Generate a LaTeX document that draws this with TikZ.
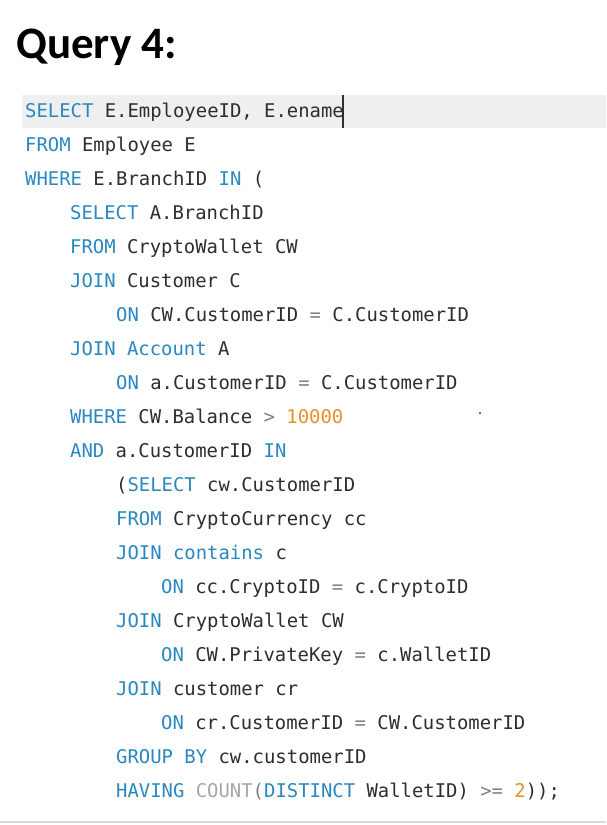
\documentclass[tikz,border=0pt]{standalone}
\usepackage{fontspec}
\setmainfont{Carlito}
\setmonofont{DejaVu Sans Mono}
\usetikzlibrary{positioning}

\definecolor{sqlblue}{HTML}{2A88C0}
\definecolor{sqltext}{HTML}{2E2E2E}
\definecolor{sqlorange}{HTML}{E8902C}
\definecolor{sqlgray}{HTML}{808080}
\definecolor{sqlfunc}{HTML}{A6A6A6}
\definecolor{linebg}{HTML}{EFEFEF}

\newcommand{\sqlkw}[1]{\textcolor{sqlblue}{#1}}
\newcommand{\sqlnum}[1]{\textcolor{sqlorange}{#1}}
\newcommand{\sqlop}[1]{\textcolor{sqlgray}{#1}}
\newcommand{\sqlfn}[1]{\textcolor{sqlfunc}{#1}}

\begin{document}
\begin{tikzpicture}[x=1pt,y=-1pt]

	\tikzset{code line/.style={inner sep=0pt, anchor=base west,
			font=\ttfamily\fontsize{18.9}{20}\selectfont, text=sqltext},
		title/.style={inner sep=0pt, anchor=base west,
			font=\bfseries\fontsize{45}{50}\selectfont}}

	\useasboundingbox[fill=white] (0,0) rectangle (606,825);

	% current line and cursor
	\fill[linebg] (22,95) rectangle (606,128);
	\draw[sqltext, line width=1.6pt] (343,95) -- (343,128);

	\node[title] (head) at (16,58) {Query 4:};

	% outer query
	\node[code line] (l1) at (25,117) {\sqlkw{SELECT} E.EmployeeID, E.ename};
	\node[code line] (l2) at (25,151) {\sqlkw{FROM} Employee E};
	\node[code line] (l3) at (25,185) {\sqlkw{WHERE} E.BranchID \sqlkw{IN} (};
	% first subquery
	\node[code line] (l4) at (70,219) {\sqlkw{SELECT} A.BranchID};
	\node[code line] (l5) at (70,253) {\sqlkw{FROM} CryptoWallet CW};
	\node[code line] (l6) at (70,287) {\sqlkw{JOIN} Customer C};
	\node[code line] (l7) at (116,321) {\sqlkw{ON} CW.CustomerID \sqlop{=} C.CustomerID};
	\node[code line] (l8) at (70,355) {\sqlkw{JOIN} \sqlkw{Account} A};
	\node[code line] (l9) at (116,389) {\sqlkw{ON} a.CustomerID \sqlop{=} C.CustomerID};
	\node[code line] (l10) at (70,423) {\sqlkw{WHERE} CW.Balance \sqlop{>} \sqlnum{10000}};
	\node[code line] (l11) at (70,457) {\sqlkw{AND} a.CustomerID \sqlkw{IN}};
	% second subquery
	\node[code line] (l12) at (116,491) {(\sqlkw{SELECT} cw.CustomerID};
	\node[code line] (l13) at (116,525) {\sqlkw{FROM} CryptoCurrency cc};
	\node[code line] (l14) at (116,559) {\sqlkw{JOIN} \sqlkw{contains} c};
	\node[code line] (l15) at (161,593) {\sqlkw{ON} cc.CryptoID \sqlop{=} c.CryptoID};
	\node[code line] (l16) at (116,627) {\sqlkw{JOIN} CryptoWallet CW};
	\node[code line] (l17) at (161,661) {\sqlkw{ON} CW.PrivateKey \sqlop{=} c.WalletID};
	\node[code line] (l18) at (116,695) {\sqlkw{JOIN} customer cr};
	\node[code line] (l19) at (161,729) {\sqlkw{ON} cr.CustomerID \sqlop{=} CW.CustomerID};
	\node[code line] (l20) at (116,763) {\sqlkw{GROUP} \sqlkw{BY} cw.customerID};
	\node[code line] (l21) at (116,797) {\sqlkw{HAVING} \sqlfn{COUNT}\sqlop{(}\sqlkw{DISTINCT} WalletID) \sqlop{>=} \sqlnum{2}));};

	\fill[blue!60!black] (480,413) circle (1pt);
	\draw[black!15, line width=1.5pt] (0,822) -- (606,822);

\end{tikzpicture}
\end{document}
